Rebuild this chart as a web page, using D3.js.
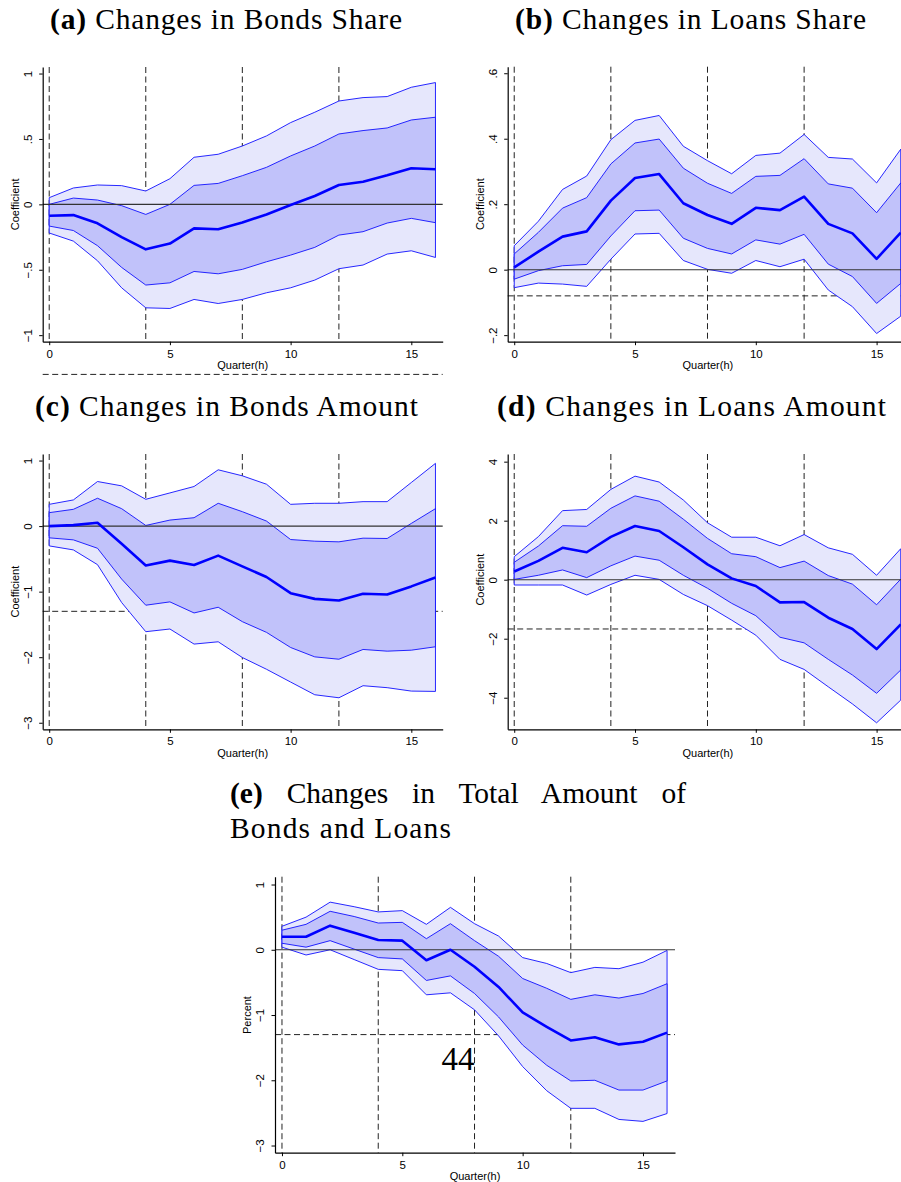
<!DOCTYPE html>
<html>
<head>
<meta charset="utf-8">
<script src="https://cdn.jsdelivr.net/npm/d3@7"></script>
<style>
  body { margin: 0; background: #fff; }
  svg { display: block; }
</style>
</head>
<body>
<script>
// horizon (quarters) and axis ticks
var quarters = [0, 1, 2, 3, 4, 5, 6, 7, 8, 9, 10, 11, 12, 13, 14, 15, 16];
var xTicks = [0, 5, 10, 15];
var markQuarters = [0, 4, 8, 12];

// (a) bonds share
var bondsShareCoef    = [-0.087, -0.082, -0.145, -0.25, -0.344, -0.30, -0.184, -0.19, -0.138, -0.077, -0.005, 0.064, 0.148, 0.173, 0.222, 0.276, 0.268];
var bondsShareInnerHi = [0.0, 0.048, 0.033, -0.01, -0.077, 0.0, 0.145, 0.16, 0.219, 0.283, 0.37, 0.446, 0.538, 0.564, 0.584, 0.645, 0.666];
var bondsShareInnerLo = [-0.166, -0.20, -0.316, -0.482, -0.617, -0.60, -0.513, -0.531, -0.497, -0.439, -0.388, -0.329, -0.235, -0.209, -0.143, -0.107, -0.14];
var bondsShareOuterHi = [0.051, 0.125, 0.148, 0.143, 0.102, 0.196, 0.36, 0.383, 0.446, 0.523, 0.625, 0.704, 0.79, 0.816, 0.824, 0.895, 0.931];
var bondsShareOuterLo = [-0.219, -0.281, -0.431, -0.638, -0.791, -0.796, -0.727, -0.758, -0.727, -0.676, -0.638, -0.579, -0.492, -0.464, -0.38, -0.355, -0.406];

// (b) loans share
var loansShareCoef    = [0.007, 0.055, 0.101, 0.117, 0.211, 0.28, 0.292, 0.203, 0.167, 0.14, 0.189, 0.182, 0.223, 0.14, 0.111, 0.033, 0.113];
var loansShareInnerHi = [0.048, 0.114, 0.188, 0.22, 0.323, 0.387, 0.399, 0.31, 0.264, 0.233, 0.285, 0.288, 0.339, 0.262, 0.249, 0.174, 0.265];
var loansShareInnerLo = [-0.029, -0.003, 0.012, 0.016, 0.103, 0.18, 0.182, 0.096, 0.065, 0.048, 0.091, 0.078, 0.108, 0.017, -0.021, -0.103, -0.042];
var loansShareOuterHi = [0.073, 0.148, 0.245, 0.286, 0.397, 0.456, 0.471, 0.377, 0.333, 0.293, 0.349, 0.356, 0.413, 0.343, 0.338, 0.265, 0.368];
var loansShareOuterLo = [-0.055, -0.041, -0.044, -0.051, 0.032, 0.109, 0.111, 0.028, 0.001, -0.011, 0.028, 0.009, 0.032, -0.062, -0.113, -0.195, -0.142];

// (c) bonds amount
var bondsAmtCoef    = [0, 0.015, 0.05, -0.27, -0.6, -0.527, -0.593, -0.45, -0.614, -0.777, -1.023, -1.11, -1.136, -1.033, -1.043, -0.92, -0.783];
var bondsAmtInnerHi = [0.205, 0.256, 0.425, 0.266, 0.01, 0.092, 0.128, 0.348, 0.22, 0.077, -0.205, -0.23, -0.24, -0.184, -0.189, 0.041, 0.266];
var bondsAmtInnerLo = [-0.179, -0.21, -0.338, -0.808, -1.207, -1.156, -1.325, -1.238, -1.458, -1.621, -1.852, -1.995, -2.031, -1.882, -1.908, -1.893, -1.841];
var bondsAmtOuterHi = [0.332, 0.399, 0.68, 0.614, 0.409, 0.506, 0.604, 0.859, 0.767, 0.639, 0.332, 0.348, 0.348, 0.373, 0.373, 0.665, 0.957];
var bondsAmtOuterLo = [-0.302, -0.363, -0.588, -1.166, -1.611, -1.57, -1.8, -1.765, -2.005, -2.184, -2.379, -2.573, -2.619, -2.435, -2.465, -2.517, -2.522];

// (d) loans amount
var loansAmtCoef    = [0.28, 0.64, 1.08, 0.93, 1.45, 1.82, 1.65, 1.1, 0.52, 0.045, -0.215, -0.768, -0.757, -1.288, -1.672, -2.35, -1.514];
var loansAmtInnerHi = [0.59, 1.14, 1.83, 1.81, 2.42, 2.84, 2.66, 2.05, 1.40, 0.88, 0.78, 0.41, 0.63, 0.14, -0.15, -0.85, 0.02];
var loansAmtInnerLo = [0.01, 0.15, 0.33, 0.07, 0.47, 0.8, 0.66, 0.15, -0.29, -0.8, -1.22, -1.95, -2.14, -2.7, -3.23, -3.85, -3.06];
var loansAmtOuterHi = [0.78, 1.46, 2.34, 2.38, 3.06, 3.51, 3.31, 2.7, 1.93, 1.44, 1.44, 1.15, 1.53, 1.08, 0.86, 0.15, 1.05];
var loansAmtOuterLo = [-0.18, -0.18, -0.18, -0.52, -0.16, 0.15, 0.01, -0.5, -0.88, -1.37, -1.88, -2.7, -3.04, -3.63, -4.21, -4.85, -4.08];

// (e) total amount
var totalCoef    = [0.2, 0.2, 0.37, 0.26, 0.15, 0.14, -0.16, 0.0, -0.26, -0.57, -0.96, -1.18, -1.39, -1.34, -1.45, -1.41, -1.27];
var totalInnerHi = [0.3, 0.39, 0.59, 0.51, 0.41, 0.42, 0.17, 0.4, 0.14, -0.1, -0.44, -0.59, -0.76, -0.69, -0.74, -0.67, -0.52];
var totalInnerLo = [0.1, 0.04, 0.14, 0.01, -0.12, -0.14, -0.47, -0.4, -0.67, -1.03, -1.46, -1.77, -2.01, -2.0, -2.15, -2.15, -2.01];
var totalOuterHi = [0.36, 0.5, 0.73, 0.66, 0.58, 0.6, 0.39, 0.65, 0.4, 0.21, -0.12, -0.21, -0.35, -0.27, -0.29, -0.19, -0.01];
var totalOuterLo = [0.04, -0.08, 0.0, -0.15, -0.3, -0.32, -0.69, -0.66, -0.92, -1.32, -1.79, -2.16, -2.43, -2.43, -2.6, -2.63, -2.51];

// y ticks and labels per panel
var shareATicks = [-1, -0.5, 0, 0.5, 1];
var shareALabels = ["\u22121", "\u2212.5", "0", ".5", "1"];
var shareBTicks = [-0.2, 0, 0.2, 0.4, 0.6];
var shareBLabels = ["\u2212.2", "0", ".2", ".4", ".6"];
var amtCTicks = [-3, -2, -1, 0, 1];
var amtCLabels = ["\u22123", "\u22122", "\u22121", "0", "1"];
var amtDTicks = [-4, -2, 0, 2, 4];
var amtDLabels = ["\u22124", "\u22122", "0", "2", "4"];

// reference (dashed) horizontal levels
var refLevels = [-1.3, -0.08, -1.3, -1.67, -1.3];

var W = 901, H = 1182;
var svg = d3.select("body").append("svg").attr("width", W).attr("height", H);

var panels = [
  { coef: bondsShareCoef, iHi: bondsShareInnerHi, iLo: bondsShareInnerLo, oHi: bondsShareOuterHi, oLo: bondsShareOuterLo,
    yTicks: shareATicks, yLabels: shareALabels, yTitle: "Coefficient", ref: refLevels[0],
    left: 42.7, right: 442.7, top: 67, bottom: 341.7, xDom: [-0.27, 16.3], yDom: [-1.05, 1.05] },
  { coef: loansShareCoef, iHi: loansShareInnerHi, iLo: loansShareInnerLo, oHi: loansShareOuterHi, oLo: loansShareOuterLo,
    yTicks: shareBTicks, yLabels: shareBLabels, yTitle: "Coefficient", ref: refLevels[1],
    left: 507.7, right: 908, top: 66.7, bottom: 341.7, xDom: [-0.27, 16.3], yDom: [-0.22, 0.62] },
  { coef: bondsAmtCoef, iHi: bondsAmtInnerHi, iLo: bondsAmtInnerLo, oHi: bondsAmtOuterHi, oLo: bondsAmtOuterLo,
    yTicks: amtCTicks, yLabels: amtCLabels, yTitle: "Coefficient", ref: refLevels[2],
    left: 42.7, right: 442.7, top: 454, bottom: 729.3, xDom: [-0.27, 16.3], yDom: [-3.1, 1.1] },
  { coef: loansAmtCoef, iHi: loansAmtInnerHi, iLo: loansAmtInnerLo, oHi: loansAmtOuterHi, oLo: loansAmtOuterLo,
    yTicks: amtDTicks, yLabels: amtDLabels, yTitle: "Coefficient", ref: refLevels[3],
    left: 507.7, right: 908, top: 454, bottom: 729.3, xDom: [-0.27, 16.3], yDom: [-5.07, 4.26] },
  { coef: totalCoef, iHi: totalInnerHi, iLo: totalInnerLo, oHi: totalOuterHi, oLo: totalOuterLo,
    yTicks: amtCTicks, yLabels: amtCLabels, yTitle: "Percent", ref: refLevels[4],
    left: 275, right: 675, top: 876.7, bottom: 1152.7, xDom: [-0.29, 16.33], yDom: [-3.11, 1.12] }
];

function drawPanel(p) {
  var x = d3.scaleLinear().domain(p.xDom).range([p.left, p.right]);
  var y = d3.scaleLinear().domain(p.yDom).range([p.bottom, p.top]);
  var g = svg.append("g");

  // dashed reference lines first, bands cover them
  g.append("line")
    .attr("x1", p.left).attr("x2", p.right)
    .attr("y1", y(p.ref)).attr("y2", y(p.ref))
    .attr("stroke", "#222").attr("stroke-width", 1)
    .attr("stroke-dasharray", "6,3.5");

  g.selectAll(".vmark").data(markQuarters).enter()
    .append("line")
      .attr("x1", function(d){ return x(d); })
      .attr("x2", function(d){ return x(d); })
      .attr("y1", p.top).attr("y2", p.bottom)
      .attr("stroke", "#222").attr("stroke-width", 1)
      .attr("stroke-dasharray", "6,3.5");

  // confidence bands
  var band = function(lo) {
    return d3.area()
      .x(function(d, i){ return x(quarters[i]); })
      .y0(function(d, i){ return y(lo[i]); })
      .y1(function(d){ return y(d); });
  };
  g.append("path").attr("d", band(p.oLo)(p.oHi))
    .attr("fill", "#e6e7fc").attr("stroke", "#1010ff").attr("stroke-width", 0.9);
  g.append("path").attr("d", band(p.iLo)(p.iHi))
    .attr("fill", "#c1c2fa").attr("stroke", "#1010ff").attr("stroke-width", 0.9);

  // zero line
  g.append("line")
    .attr("x1", p.left).attr("x2", p.right)
    .attr("y1", y(0)).attr("y2", y(0))
    .attr("stroke", "#333").attr("stroke-width", 1.1);

  // point estimate
  var line = d3.line()
    .x(function(d, i){ return x(quarters[i]); })
    .y(function(d){ return y(d); });
  g.append("path").attr("d", line(p.coef))
    .attr("fill", "none").attr("stroke", "#0000ff").attr("stroke-width", 2.6)
    .attr("stroke-linejoin", "round");

  // axes
  var ya = g.append("g").attr("transform", "translate(" + p.left + ",0)")
    .call(d3.axisLeft(y).tickValues(p.yTicks).tickSize(3.5).tickSizeOuter(0)
      .tickFormat(function(d, i){ return p.yLabels[i]; }));
  ya.selectAll("text")
    .attr("x", 0).attr("dy", 0)
    .attr("text-anchor", "middle")
    .attr("transform", "translate(-10.7,0) rotate(-90)");

  var xa = g.append("g").attr("transform", "translate(0," + p.bottom + ")")
    .call(d3.axisBottom(x).tickValues(xTicks).tickSize(3.5).tickSizeOuter(0));
  xa.selectAll("text").attr("y", 16).attr("dy", 0);

  [ya, xa].forEach(function(a) {
    a.attr("font-family", "'Liberation Sans', Arial, sans-serif").attr("font-size", 11.5);
    a.select(".domain").attr("stroke", "#000").attr("stroke-width", 1.2);
    a.selectAll(".tick line").attr("stroke", "#000").attr("stroke-width", 1);
    a.selectAll("text").attr("fill", "#000");
  });

  g.append("text")
    .attr("transform", "translate(" + (p.left - 23.7) + "," + y((p.yTicks[0] + p.yTicks[p.yTicks.length - 1]) / 2) + ") rotate(-90)")
    .attr("text-anchor", "middle")
    .attr("font-family", "'Liberation Sans', Arial, sans-serif").attr("font-size", 11)
    .text(p.yTitle);

  g.append("text")
    .attr("x", (p.left + p.right) / 2).attr("y", p.bottom + 27.6)
    .attr("text-anchor", "middle")
    .attr("font-family", "'Liberation Sans', Arial, sans-serif").attr("font-size", 11)
    .text("Quarter(h)");
}

panels.forEach(drawPanel);

// sub-figure captions
var captionTags = ["(a)", "(b)", "(c)", "(d)", "(e)", ""];
var captionTexts = [" Changes in Bonds Share", " Changes in Loans Share", " Changes in Bonds Amount",
                    " Changes in Loans Amount", " Changes in Total Amount of", "Bonds and Loans"];
var captionBoxes = [
  { x: 50, w: 352, y: 29, justify: false },
  { x: 515, w: 351, y: 29, justify: false },
  { x: 35, w: 383, y: 416, justify: false },
  { x: 497, w: 389, y: 416, justify: false },
  { x: 230, w: 456, y: 803, justify: true },
  { x: 230, w: 221, y: 838, justify: false }
];

captionTexts.forEach(function(t, i) {
  var b = captionBoxes[i];
  var txt = svg.append("text")
    .attr("x", b.x).attr("y", b.y)
    .attr("font-family", "'Liberation Serif', 'Times New Roman', serif")
    .attr("font-size", 29.5).attr("fill", "#000");
  if (captionTags[i]) txt.append("tspan").attr("font-weight", "bold").text(captionTags[i]);
  txt.append("tspan").text(t);
  var natural = txt.node().getComputedTextLength();
  if (b.justify) {
    var gaps = (captionTags[i] + t).split(" ").length - 1;
    txt.attr("word-spacing", (b.w - natural) / gaps);
  } else {
    txt.attr("textLength", b.w).attr("lengthAdjust", "spacing");
  }
});

// page number
svg.append("text")
  .attr("x", 458).attr("y", 1070)
  .attr("text-anchor", "middle")
  .attr("font-family", "'Liberation Serif', 'Times New Roman', serif")
  .attr("font-size", 33)
  .text("44");
</script>
</body>
</html>
